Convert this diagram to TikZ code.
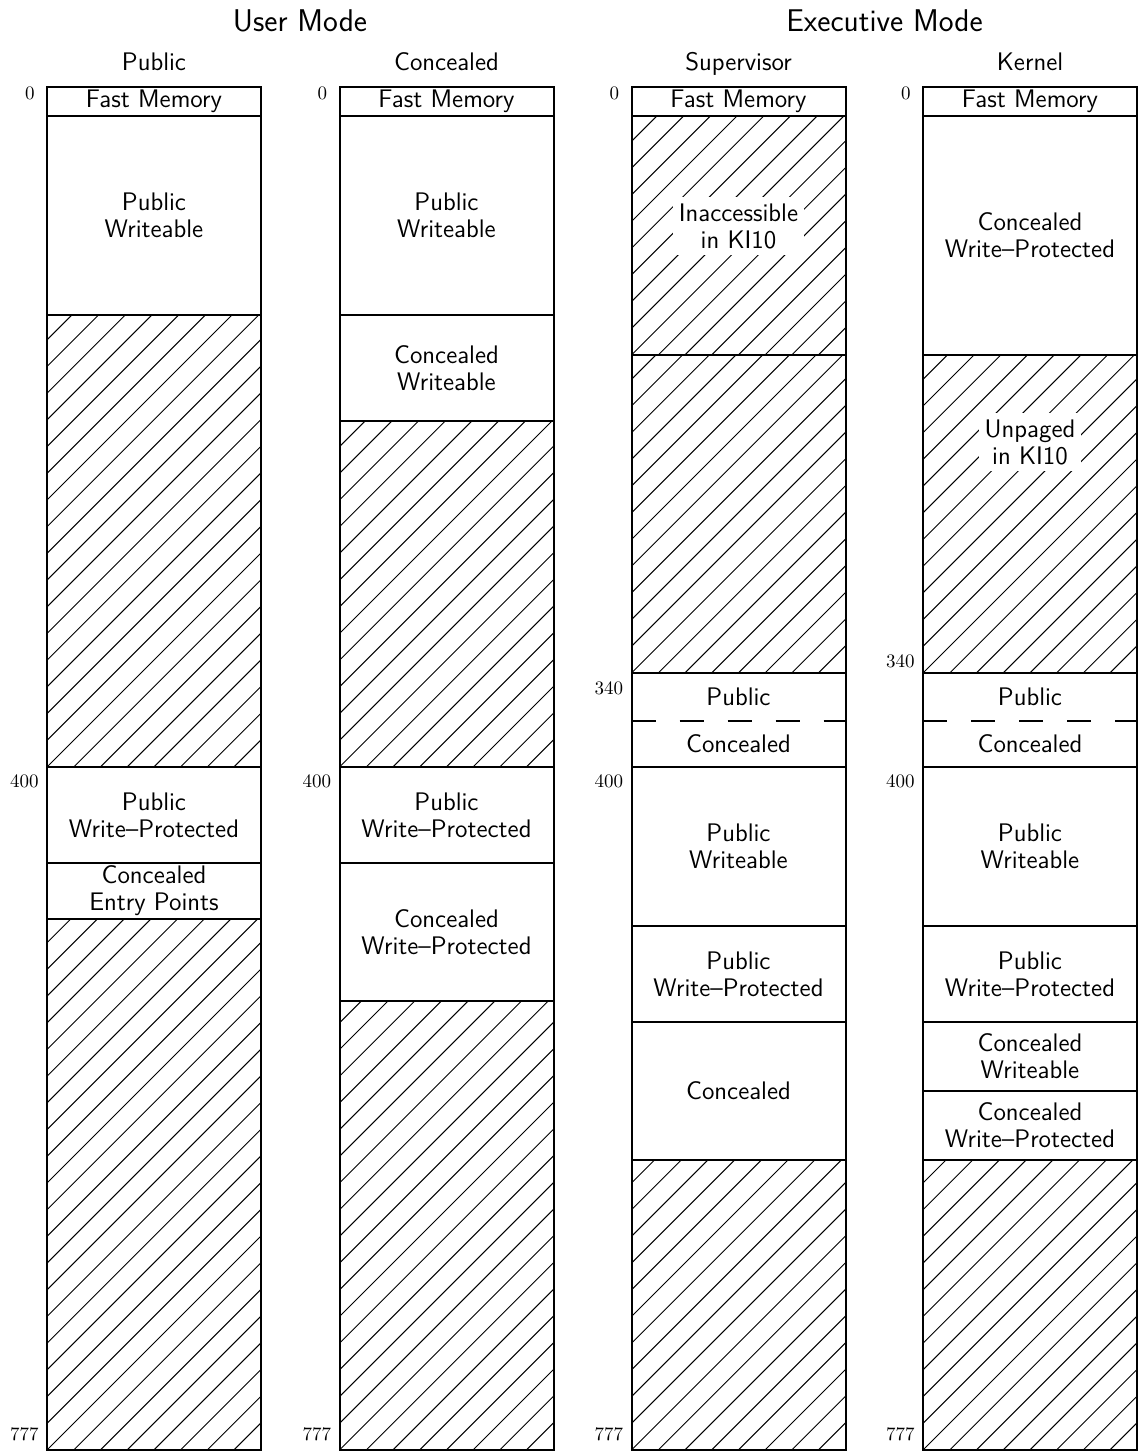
\documentclass[tikz,border=0pt]{standalone}
\usepackage{fontspec}
% Hatching for unused address ranges: 45-degree strokes anchored at the
% bottom-left corner of each range, clipped to the range.
\newcommand\hatchfill[3]{% left x, top y, bottom y
  \begin{scope}
    \clip (#1,#2) rectangle (#1+214,#3);
    \foreach \k in {-21,...,8}
      \draw[hatchline] (#1+\k*26.7,#3) -- ++(600,-600);
  \end{scope}}
\def\colA{47}
\def\colB{339.5}
\def\colC{631.5}
\def\colD{923}
\begin{document}
\begin{tikzpicture}[x=0.5pt,y=-0.5pt,
  frame/.style={line width=1pt},
  hatchline/.style={line width=0.5pt},
  sep/.style={line width=1pt},
  halfsep/.style={line width=1pt, dash pattern=on 12pt off 12pt},
  lbl/.style={font=\sffamily\fontsize{12.7}{13.5}\selectfont, align=center, inner sep=0pt},
  hlbl/.style={lbl, fill=white, inner sep=3pt},
  addr/.style={font=\fontsize{9.5}{11}\selectfont, inner sep=0pt, anchor=east},
  colhead/.style={font=\sffamily\fontsize{12.7}{14}\selectfont, anchor=base},
  modehead/.style={font=\sffamily\fontsize{15.7}{18}\selectfont, anchor=base}]
\useasboundingbox (0,0) rectangle (1138,1452);

% ---- mode and column headings ----
\node[modehead] (user) at (300,31) {User Mode};
\node[modehead] (exec) at (884.5,31) {Executive Mode};
\node[colhead] (hA) at (\colA+107,70) {Public};
\node[colhead] (hB) at (\colB+107,70) {Concealed};
\node[colhead] (hC) at (\colC+107,70) {Supervisor};
\node[colhead] (hD) at (\colD+107,70) {Kernel};

% ---- hatched (unmapped) ranges ----
\hatchfill{\colA}{315}{767}
\hatchfill{\colA}{919}{1450}
\hatchfill{\colB}{421}{767}
\hatchfill{\colB}{1001}{1450}
\hatchfill{\colC}{116}{355}
\hatchfill{\colC}{355}{673}
\hatchfill{\colC}{1160}{1450}
\hatchfill{\colD}{355}{673}
\hatchfill{\colD}{1160}{1450}

% ---- column outlines ----
\foreach \x in {\colA,\colB,\colC,\colD}
  \draw[frame] (\x,87) rectangle (\x+214,1450);

% ---- range boundaries ----
\foreach \y in {116,315,767,863,919}
  \draw[sep] (\colA,\y) -- (\colA+214,\y);
\foreach \y in {116,315,421,767,863,1001}
  \draw[sep] (\colB,\y) -- (\colB+214,\y);
\foreach \y in {116,355,673,767,926,1022,1160}
  \draw[sep] (\colC,\y) -- (\colC+214,\y);
\foreach \y in {116,355,673,767,926,1022,1091,1160}
  \draw[sep] (\colD,\y) -- (\colD+214,\y);
\draw[halfsep] (\colC,721) -- (\colC+214,721);
\draw[halfsep] (\colD,721) -- (\colD+214,721);

% ---- page addresses (octal) ----
\foreach \x/\c in {\colA/A,\colB/B,\colC/C,\colD/D} {
  \node[addr] (z\c) at (\x-12,93) {0};
  \node[addr] (f\c) at (\x-8,781) {400};
  \node[addr] (e\c) at (\x-8,1434) {777};
}
\node[addr] (tC) at (\colC-8,688) {340};
\node[addr] (tD) at (\colD-8,661) {340};

% ---- User mode, public ----
\node[lbl] (a1) at (\colA+107,101.5) {Fast Memory};
\node[lbl] (a2) at (\colA+107,215.5) {Public\\Writeable};
\node[lbl] (a3) at (\colA+107,815) {Public\\Write\textendash Protected};
\node[lbl] (a4) at (\colA+107,891) {Concealed\\Entry Points};

% ---- User mode, concealed ----
\node[lbl] (b1) at (\colB+107,101.5) {Fast Memory};
\node[lbl] (b2) at (\colB+107,215.5) {Public\\Writeable};
\node[lbl] (b3) at (\colB+107,368) {Concealed\\Writeable};
\node[lbl] (b4) at (\colB+107,815) {Public\\Write\textendash Protected};
\node[lbl] (b5) at (\colB+107,932) {Concealed\\Write\textendash Protected};

% ---- Executive mode, supervisor ----
\node[lbl] (c1) at (\colC+107,101.5) {Fast Memory};
\node[hlbl] (c2) at (\colC+107,226) {Inaccessible\\in KI10};
\node[lbl] (c3) at (\colC+107,697) {Public};
\node[lbl] (c4) at (\colC+107,744) {Concealed};
\node[lbl] (c5) at (\colC+107,846.5) {Public\\Writeable};
\node[lbl] (c6) at (\colC+107,974) {Public\\Write\textendash Protected};
\node[lbl] (c7) at (\colC+107,1091) {Concealed};

% ---- Executive mode, kernel ----
\node[lbl] (d1) at (\colD+107,101.5) {Fast Memory};
\node[lbl] (d2) at (\colD+107,235.5) {Concealed\\Write\textendash Protected};
\node[hlbl] (d3) at (\colD+107,442) {Unpaged\\in KI10};
\node[lbl] (d4) at (\colD+107,697) {Public};
\node[lbl] (d5) at (\colD+107,744) {Concealed};
\node[lbl] (d6) at (\colD+107,846.5) {Public\\Writeable};
\node[lbl] (d7) at (\colD+107,974) {Public\\Write\textendash Protected};
\node[lbl] (d8) at (\colD+107,1056.5) {Concealed\\Writeable};
\node[lbl] (d9) at (\colD+107,1125.5) {Concealed\\Write\textendash Protected};
\end{tikzpicture}
\end{document}
